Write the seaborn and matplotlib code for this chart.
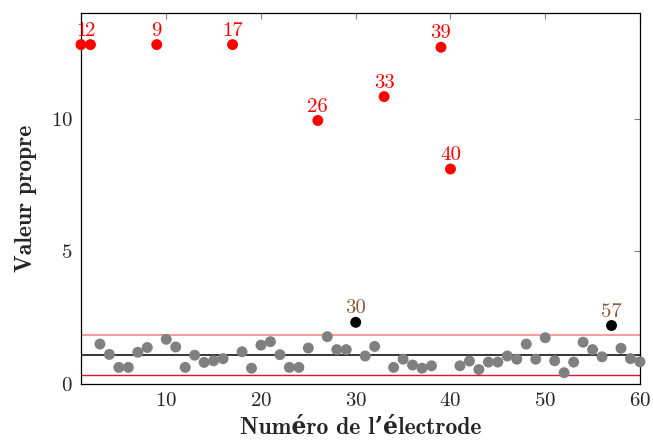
import numpy as np
import pandas as pd
import matplotlib
matplotlib.use('Agg')
import matplotlib.pyplot as plt
import seaborn as sns

# Valeurs propres par electrode
electrodes = list(range(1, 61))
valeurs = [
    12.8, 12.8, 1.51, 1.12, 0.63, 0.63, 1.20, 1.38, 12.8, 1.69,
    1.40, 0.63, 1.09, 0.82, 0.88, 0.96, 12.8, 1.22, 0.60, 1.47,
    1.60, 1.11, 0.63, 0.63, 1.36, 9.94, 1.79, 1.30, 1.30, 2.33,
    1.06, 1.42, 10.84, 0.63, 0.94, 0.72, 0.60, 0.69, 12.7, 8.11,
    0.69, 0.87, 0.55, 0.83, 0.83, 1.06, 0.94, 1.51, 0.94, 1.75,
    0.88, 0.43, 0.83, 1.58, 1.30, 1.03, 2.21, 1.35, 0.96, 0.84,
]
aberrantes = [1, 2, 9, 17, 26, 33, 39, 40]   # rouge
suspectes = [30, 57]                          # noir

# seuils horizontaux
moyenne = 1.09
seuil_haut = 1.87
seuil_bas = 0.33

df = pd.DataFrame({'electrode': electrodes, 'valeur': valeurs})
df['groupe'] = 'normal'
df.loc[df['electrode'].isin(aberrantes), 'groupe'] = 'aberrant'
df.loc[df['electrode'].isin(suspectes), 'groupe'] = 'suspect'

sns.set_style('white')
plt.rcParams['font.family'] = ['cmr10', 'DejaVu Serif']
plt.rcParams['axes.formatter.use_mathtext'] = True
plt.rcParams['mathtext.fontset'] = 'cm'

fig = plt.figure(figsize=(6.53, 4.41), dpi=100)
ax = fig.add_axes([0.124, 0.129, 0.856, 0.842])

ax.axhline(seuil_haut, color='#ff7f7f', lw=1.1, zorder=1)
ax.axhline(moyenne, color='black', lw=1.1, zorder=1)
ax.axhline(seuil_bas, color='#e8141e', lw=1.0, zorder=1)

palette = {'normal': '#808080', 'aberrant': 'red', 'suspect': 'black'}
sns.scatterplot(data=df, x='electrode', y='valeur', hue='groupe', palette=palette,
                s=62, edgecolor='none', legend=False, ax=ax, clip_on=False, zorder=3)

for _, row in df[df['groupe'] != 'normal'].iterrows():
    col = 'red' if row['groupe'] == 'aberrant' else '#8a5d3b'
    ax.annotate(str(int(row['electrode'])), (row['electrode'], row['valeur']),
                xytext=(0, 3.5), textcoords='offset points', ha='center', va='bottom',
                color=col, fontsize=15, annotation_clip=False)

ax.set_xlim(1, 60)
ax.set_ylim(0, 14)
ax.set_xticks([10, 20, 30, 40, 50, 60])
ax.set_yticks([0, 5, 10])
ax.tick_params(direction='in', length=4, width=0.8, color='#808080',
               top=True, right=True, labelsize=15, pad=6)
for s in ax.spines.values():
    s.set_color('black')
    s.set_linewidth(0.9)

lab = dict(family=['cmb10', 'DejaVu Serif'], fontsize=17, fontweight='bold')
ax.set_xlabel('Numéro de l\u2019électrode', labelpad=5, **lab)
ax.set_ylabel('Valeur propre', labelpad=10, **lab)

plt.savefig('out.png', dpi=100)
